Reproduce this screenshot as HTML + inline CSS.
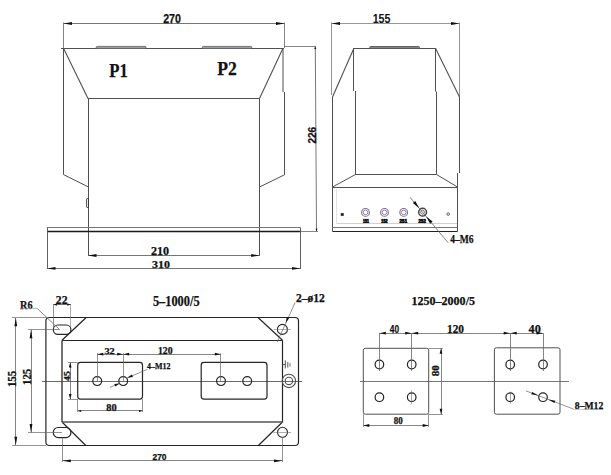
<!DOCTYPE html>
<html><head><meta charset="utf-8"><title>Transformer drawing</title>
<style>html,body{margin:0;padding:0;background:#fff;}body{width:611px;height:475px;overflow:hidden;font-family:"Liberation Serif",serif;}svg{display:block;}</style>
</head><body>
<svg width="611" height="475" viewBox="0 0 611 475">
<rect x="0" y="0" width="611" height="475" fill="#fff"/>
<line x1="63.5" y1="23.5" x2="284.5" y2="23.5" stroke="#666" stroke-width="0.9"/>
<polygon points="63.50,23.50 72.00,22.10 72.00,24.90" fill="#111"/>
<polygon points="284.50,23.50 276.00,24.90 276.00,22.10" fill="#111"/>
<line x1="63.5" y1="22.5" x2="63.5" y2="48.5" stroke="#666" stroke-width="0.8"/>
<line x1="284.5" y1="22.5" x2="284.5" y2="48" stroke="#666" stroke-width="0.8"/>
<text x="163.2" y="23.0" font-family="Liberation Sans" font-weight="bold" font-size="12.85" fill="#111" stroke="#111" stroke-width="0.25" textLength="17.80" lengthAdjust="spacingAndGlyphs">270</text>
<line x1="61" y1="48.5" x2="284" y2="48.5" stroke="#505050" stroke-width="1.0"/>
<line x1="284" y1="46.5" x2="316" y2="46.5" stroke="#666" stroke-width="0.8"/>
<rect x="96.2" y="46.4" width="49.80" height="1.90" rx="1" fill="#aaa" stroke="#666" stroke-width="0.9"/>
<rect x="202.3" y="46.4" width="49.50" height="1.90" rx="1" fill="#aaa" stroke="#666" stroke-width="0.9"/>
<line x1="63.5" y1="48.3" x2="63.5" y2="174.6" stroke="#505050" stroke-width="1.0"/>
<line x1="283.0" y1="48.3" x2="283.0" y2="92" stroke="#505050" stroke-width="1.0"/>
<line x1="284.5" y1="92" x2="284.5" y2="174.8" stroke="#505050" stroke-width="1.0"/>
<line x1="63.5" y1="48.3" x2="88" y2="98.4" stroke="#505050" stroke-width="1.1"/>
<line x1="283.0" y1="48.3" x2="259.5" y2="98.4" stroke="#505050" stroke-width="1.1"/>
<line x1="88" y1="98.5" x2="259.7" y2="98.5" stroke="#505050" stroke-width="1.0"/>
<line x1="63.5" y1="174.6" x2="88.5" y2="187" stroke="#505050" stroke-width="1.0"/>
<line x1="284.5" y1="174.8" x2="259.5" y2="187" stroke="#505050" stroke-width="1.0"/>
<line x1="88.5" y1="98.4" x2="88.5" y2="256" stroke="#505050" stroke-width="1.0"/>
<line x1="259.5" y1="98.4" x2="259.5" y2="256" stroke="#505050" stroke-width="1.0"/>
<rect x="86.6" y="198.6" width="1.90" height="8.80" rx="0.5" fill="none" stroke="#333" stroke-width="0.9"/>
<line x1="47" y1="227.5" x2="300.5" y2="227.5" stroke="#777" stroke-width="1.2"/>
<line x1="47" y1="231.5" x2="300.5" y2="231.5" stroke="#1a1a1a" stroke-width="1.4"/>
<line x1="47.5" y1="227.6" x2="47.5" y2="269" stroke="#505050" stroke-width="0.9"/>
<line x1="300.5" y1="227.6" x2="300.5" y2="269" stroke="#505050" stroke-width="0.9"/>
<line x1="300.5" y1="231.5" x2="318" y2="231.5" stroke="#666" stroke-width="0.8"/>
<line x1="315.3" y1="46.5" x2="316.5" y2="231.3" stroke="#666" stroke-width="0.9"/>
<polygon points="315.30,46.50 316.30,49.00 314.30,49.00" fill="#111"/>
<polygon points="316.50,231.30 315.50,228.80 317.50,228.80" fill="#111"/>
<text x="0" y="0" transform="translate(315.6,143.6) rotate(-90)" font-family="Liberation Sans" font-weight="bold" font-size="11.17" fill="#111" stroke="#111" stroke-width="0.25" textLength="16.80" lengthAdjust="spacingAndGlyphs">226</text>
<line x1="88" y1="255.5" x2="259.7" y2="255.5" stroke="#666" stroke-width="0.9"/>
<polygon points="88.00,255.50 96.50,254.10 96.50,256.90" fill="#111"/>
<polygon points="259.70,255.50 251.20,256.90 251.20,254.10" fill="#111"/>
<text x="151.0" y="255.1" font-family="Liberation Serif" font-weight="bold" font-size="11.54" fill="#111" stroke="#111" stroke-width="0.25" textLength="18.10" lengthAdjust="spacingAndGlyphs">210</text>
<line x1="47" y1="268.5" x2="300.5" y2="268.5" stroke="#666" stroke-width="0.9"/>
<polygon points="47.00,268.40 55.50,267.00 55.50,269.80" fill="#111"/>
<polygon points="300.50,268.40 292.00,269.80 292.00,267.00" fill="#111"/>
<text x="152.0" y="267.9" font-family="Liberation Serif" font-weight="bold" font-size="10.95" fill="#111" stroke="#111" stroke-width="0.25" textLength="17.90" lengthAdjust="spacingAndGlyphs">310</text>
<text x="109.3" y="76.5" font-family="Liberation Serif" font-weight="bold" font-size="19.49" fill="#111" stroke="#111" stroke-width="0.25" textLength="18.60" lengthAdjust="spacingAndGlyphs">P1</text>
<text x="217.2" y="74.9" font-family="Liberation Serif" font-weight="bold" font-size="19.79" fill="#111" stroke="#111" stroke-width="0.25" textLength="19.60" lengthAdjust="spacingAndGlyphs">P2</text>
<line x1="331.5" y1="23.5" x2="459.5" y2="23.5" stroke="#8a8a8a" stroke-width="0.9"/>
<polygon points="331.50,23.50 340.00,22.10 340.00,24.90" fill="#111"/>
<polygon points="459.50,23.50 451.00,24.90 451.00,22.10" fill="#111"/>
<line x1="331.5" y1="22.5" x2="331.5" y2="95" stroke="#888" stroke-width="0.9"/>
<line x1="459.5" y1="22.5" x2="459.5" y2="97" stroke="#888" stroke-width="0.9"/>
<text x="372.7" y="22.8" font-family="Liberation Sans" font-weight="bold" font-size="12.01" fill="#111" stroke="#111" stroke-width="0" textLength="17.80" lengthAdjust="spacingAndGlyphs">155</text>
<line x1="353.5" y1="48.5" x2="435.5" y2="48.5" stroke="#505050" stroke-width="1.0"/>
<rect x="369.7" y="46.5" width="49.80" height="1.70" rx="1" fill="#999" stroke="#555" stroke-width="0.9"/>
<line x1="353.9" y1="48.2" x2="332.5" y2="97" stroke="#505050" stroke-width="1.1"/>
<line x1="435.5" y1="48.2" x2="459.5" y2="97" stroke="#505050" stroke-width="1.1"/>
<line x1="332.5" y1="97" x2="332.5" y2="231.3" stroke="#505050" stroke-width="1.0"/>
<line x1="459.5" y1="97" x2="459.5" y2="173" stroke="#505050" stroke-width="1.0"/>
<line x1="457.5" y1="173" x2="457.5" y2="231.3" stroke="#505050" stroke-width="1.0"/>
<line x1="353.5" y1="48.2" x2="353.5" y2="91" stroke="#505050" stroke-width="1.0"/>
<line x1="355.5" y1="91" x2="355.5" y2="175" stroke="#505050" stroke-width="1.0"/>
<line x1="435.5" y1="48.2" x2="435.5" y2="91.6" stroke="#505050" stroke-width="1.0"/>
<line x1="436.5" y1="91.6" x2="436.5" y2="174.5" stroke="#505050" stroke-width="1.0"/>
<line x1="355.5" y1="174.5" x2="436.5" y2="174.5" stroke="#505050" stroke-width="1.0"/>
<line x1="355.5" y1="174.5" x2="332.5" y2="187" stroke="#505050" stroke-width="1.0"/>
<line x1="436.5" y1="174.5" x2="457.5" y2="187" stroke="#505050" stroke-width="1.0"/>
<line x1="332.5" y1="187.5" x2="457.5" y2="187.5" stroke="#505050" stroke-width="1.0"/>
<line x1="332.5" y1="227.5" x2="457.5" y2="227.5" stroke="#777" stroke-width="1.0"/>
<line x1="332.5" y1="231.5" x2="457.5" y2="231.5" stroke="#222" stroke-width="1.0"/>
<circle cx="365.5" cy="212.4" r="3.9" fill="none" stroke="#7d6f95" stroke-width="1.1"/>
<circle cx="365.5" cy="212.4" r="2.3" fill="none" stroke="#8f82a5" stroke-width="1.0"/>
<circle cx="384.5" cy="212.4" r="3.9" fill="none" stroke="#7d6f95" stroke-width="1.1"/>
<circle cx="384.5" cy="212.4" r="2.3" fill="none" stroke="#8f82a5" stroke-width="1.0"/>
<circle cx="403.7" cy="212.4" r="3.9" fill="none" stroke="#7d6f95" stroke-width="1.1"/>
<circle cx="403.7" cy="212.4" r="2.3" fill="none" stroke="#8f82a5" stroke-width="1.0"/>
<circle cx="422.6" cy="212.2" r="3.9" fill="none" stroke="#444" stroke-width="1.5"/>
<circle cx="422.6" cy="212.2" r="1.9" fill="none" stroke="#666" stroke-width="0.9"/>
<rect x="341.0" y="213.2" width="2.60" height="2.60" rx="0" fill="#111" stroke="#505050" stroke-width="0.5"/>
<circle cx="448.2" cy="214.1" r="1.3" fill="none" stroke="#505050" stroke-width="0.9"/>
<text x="362.9" y="222.7" font-family="Liberation Sans" font-weight="bold" font-size="4.6" fill="#111" stroke="#111" stroke-width="0.7" textLength="6.0" lengthAdjust="spacingAndGlyphs">1S1</text>
<text x="381.2" y="222.7" font-family="Liberation Sans" font-weight="bold" font-size="4.6" fill="#111" stroke="#111" stroke-width="0.7" textLength="6.3" lengthAdjust="spacingAndGlyphs">1S2</text>
<text x="399.5" y="222.7" font-family="Liberation Sans" font-weight="bold" font-size="4.6" fill="#111" stroke="#111" stroke-width="0.7" textLength="7.5" lengthAdjust="spacingAndGlyphs">2S1</text>
<text x="418.4" y="222.7" font-family="Liberation Sans" font-weight="bold" font-size="4.6" fill="#111" stroke="#111" stroke-width="0.7" textLength="7.5" lengthAdjust="spacingAndGlyphs">2S2</text>
<line x1="336.5" y1="189" x2="336.5" y2="223" stroke="#d0d0d0" stroke-width="0.6"/>
<line x1="336.5" y1="223.5" x2="457" y2="223.5" stroke="#c4c4c4" stroke-width="0.8"/>
<line x1="410" y1="197.2" x2="448.2" y2="242.8" stroke="#666" stroke-width="0.8"/>
<polygon points="419.20,208.20 412.83,203.10 415.28,201.05" fill="#111"/>
<polygon points="426.20,216.50 432.57,221.60 430.12,223.65" fill="#111"/>
<text x="450.2" y="242.6" font-family="Liberation Serif" font-weight="bold" font-size="12.13" fill="#111" stroke="#111" stroke-width="0.25" textLength="23.40" lengthAdjust="spacingAndGlyphs">4–M6</text>
<rect x="45.9" y="317.5" width="252.60" height="128.00" rx="3.5" fill="none" stroke="#262626" stroke-width="1.2"/>
<line x1="86.2" y1="317.5" x2="62" y2="340.3" stroke="#262626" stroke-width="1.2"/>
<line x1="258" y1="317.5" x2="282.5" y2="340.3" stroke="#262626" stroke-width="1.2"/>
<line x1="62" y1="422" x2="85.8" y2="445.5" stroke="#262626" stroke-width="1.2"/>
<line x1="282.5" y1="422" x2="258.4" y2="445.5" stroke="#262626" stroke-width="1.2"/>
<line x1="62" y1="340.5" x2="62" y2="422" stroke="#262626" stroke-width="1.3"/>
<line x1="282.5" y1="340.5" x2="282.5" y2="422" stroke="#262626" stroke-width="1.2"/>
<line x1="62" y1="340.5" x2="282.5" y2="340.5" stroke="#262626" stroke-width="1.1"/>
<line x1="62" y1="422" x2="282.5" y2="422" stroke="#555" stroke-width="1.3"/>
<rect x="53.3" y="325.0" width="17.60" height="9.40" rx="4.6" fill="none" stroke="#262626" stroke-width="1.2"/>
<rect x="53.3" y="427.5" width="17.60" height="10.10" rx="4.8" fill="none" stroke="#262626" stroke-width="1.2"/>
<circle cx="282.4" cy="329.4" r="5" fill="none" stroke="#262626" stroke-width="1.1"/>
<circle cx="282.5" cy="432.3" r="5" fill="none" stroke="#262626" stroke-width="1.1"/>
<line x1="273.5" y1="329.5" x2="291" y2="329.5" stroke="#777" stroke-width="0.6"/>
<line x1="273.5" y1="432.5" x2="291" y2="432.5" stroke="#777" stroke-width="0.6"/>
<line x1="53.4" y1="304.5" x2="70.8" y2="304.5" stroke="#666" stroke-width="0.8"/>
<line x1="53.5" y1="304" x2="53.5" y2="327" stroke="#666" stroke-width="0.7"/>
<line x1="70.5" y1="304" x2="70.5" y2="327" stroke="#777" stroke-width="0.6"/>
<polygon points="53.40,304.60 56.90,303.40 56.90,305.80" fill="#111"/>
<polygon points="70.80,304.60 67.30,305.80 67.30,303.40" fill="#111"/>
<text x="55.800000000000004" y="304.3" font-family="Liberation Serif" font-weight="bold" font-size="11.98" fill="#111" stroke="#111" stroke-width="0.25" textLength="11.70" lengthAdjust="spacingAndGlyphs">22</text>
<text x="20.099999999999998" y="308.8" font-family="Liberation Serif" font-weight="bold" font-size="11.54" fill="#111" stroke="#111" stroke-width="0.25" textLength="12.50" lengthAdjust="spacingAndGlyphs">R6</text>
<line x1="21" y1="308.5" x2="37.4" y2="308.5" stroke="#999" stroke-width="0.6"/>
<line x1="37.4" y1="308.7" x2="59.5" y2="329.5" stroke="#666" stroke-width="0.8"/>
<line x1="15.5" y1="318" x2="15.5" y2="445.3" stroke="#666" stroke-width="0.8"/>
<polygon points="15.80,317.80 17.20,326.30 14.40,326.30" fill="#111"/>
<polygon points="15.80,445.30 14.40,436.80 17.20,436.80" fill="#111"/>
<line x1="12" y1="317.5" x2="46" y2="317.5" stroke="#666" stroke-width="0.7"/>
<line x1="12" y1="445.5" x2="46" y2="445.5" stroke="#666" stroke-width="0.7"/>
<text x="0" y="0" transform="translate(16.3,387.1) rotate(-90)" font-family="Liberation Serif" font-weight="bold" font-size="13.17" fill="#111" stroke="#111" stroke-width="0.25" textLength="16.30" lengthAdjust="spacingAndGlyphs">155</text>
<line x1="31.5" y1="329.7" x2="31.5" y2="432.6" stroke="#666" stroke-width="0.8"/>
<polygon points="31.00,329.70 32.40,338.20 29.60,338.20" fill="#111"/>
<polygon points="31.00,432.60 29.60,424.10 32.40,424.10" fill="#111"/>
<line x1="28" y1="329.5" x2="59.5" y2="329.5" stroke="#666" stroke-width="0.7"/>
<line x1="28" y1="432.5" x2="62" y2="432.5" stroke="#666" stroke-width="0.7"/>
<text x="0" y="0" transform="translate(31,385) rotate(-90)" font-family="Liberation Serif" font-weight="bold" font-size="12.43" fill="#111" stroke="#111" stroke-width="0.25" textLength="16.30" lengthAdjust="spacingAndGlyphs">125</text>
<line x1="42" y1="381.5" x2="302" y2="381.5" stroke="#444" stroke-width="0.8"/>
<rect x="77.7" y="362.4" width="64.80" height="36.70" rx="2.8" fill="none" stroke="#262626" stroke-width="1.2"/>
<rect x="201.2" y="362.4" width="65.80" height="36.70" rx="2.8" fill="none" stroke="#262626" stroke-width="1.2"/>
<circle cx="97.2" cy="381.1" r="4.4" fill="none" stroke="#262626" stroke-width="1.2"/>
<circle cx="123.2" cy="381.1" r="4.4" fill="none" stroke="#262626" stroke-width="1.2"/>
<circle cx="221.0" cy="381.1" r="4.4" fill="none" stroke="#262626" stroke-width="1.2"/>
<circle cx="247.2" cy="381.1" r="4.4" fill="none" stroke="#262626" stroke-width="1.2"/>
<line x1="97.3" y1="354.5" x2="220.8" y2="354.5" stroke="#666" stroke-width="0.8"/>
<line x1="97.5" y1="353.2" x2="97.5" y2="381" stroke="#666" stroke-width="0.7"/>
<line x1="123.5" y1="353.2" x2="123.5" y2="381" stroke="#666" stroke-width="0.7"/>
<line x1="220.5" y1="353.2" x2="220.5" y2="381" stroke="#666" stroke-width="0.7"/>
<polygon points="97.30,354.20 103.30,352.80 103.30,355.60" fill="#111"/>
<polygon points="123.20,354.20 117.20,355.60 117.20,352.80" fill="#111"/>
<polygon points="123.20,354.20 129.20,352.80 129.20,355.60" fill="#111"/>
<polygon points="220.80,354.20 214.80,355.60 214.80,352.80" fill="#111"/>
<text x="104.4" y="353.5" font-family="Liberation Serif" font-weight="bold" font-size="9.02" fill="#111" stroke="#111" stroke-width="0.25" textLength="10.30" lengthAdjust="spacingAndGlyphs">32</text>
<text x="157.89999999999998" y="353.6" font-family="Liberation Serif" font-weight="bold" font-size="9.32" fill="#111" stroke="#111" stroke-width="0.25" textLength="14.70" lengthAdjust="spacingAndGlyphs">120</text>
<line x1="70.5" y1="362.4" x2="70.5" y2="399.1" stroke="#666" stroke-width="0.8"/>
<line x1="68" y1="362.5" x2="77.7" y2="362.5" stroke="#666" stroke-width="0.7"/>
<line x1="68" y1="399.5" x2="77.7" y2="399.5" stroke="#666" stroke-width="0.7"/>
<polygon points="70.20,362.40 71.60,367.40 68.80,367.40" fill="#111"/>
<polygon points="70.20,399.10 68.80,394.10 71.60,394.10" fill="#111"/>
<text x="0" y="0" transform="translate(69.8,381) rotate(-90)" font-family="Liberation Serif" font-weight="bold" font-size="7.25" fill="#111" stroke="#111" stroke-width="0.25" textLength="9.80" lengthAdjust="spacingAndGlyphs">45</text>
<line x1="77.7" y1="410.5" x2="142.5" y2="410.5" stroke="#666" stroke-width="0.8"/>
<line x1="77.7" y1="399.5" x2="142.5" y2="399.5" stroke="#666" stroke-width="0"/>
<line x1="77.5" y1="399.1" x2="77.5" y2="412" stroke="#666" stroke-width="0.7"/>
<line x1="142.5" y1="399.1" x2="142.5" y2="412" stroke="#666" stroke-width="0.7"/>
<polygon points="77.70,410.90 81.20,409.90 81.20,411.90" fill="#111"/>
<polygon points="142.50,410.90 139.00,411.90 139.00,409.90" fill="#111"/>
<text x="106.2" y="410.5" font-family="Liberation Serif" font-weight="bold" font-size="9.32" fill="#111" stroke="#111" stroke-width="0.25" textLength="10.40" lengthAdjust="spacingAndGlyphs">80</text>
<text x="147.1" y="369.3" font-family="Liberation Serif" font-weight="bold" font-size="8.73" fill="#111" stroke="#111" stroke-width="0.25" textLength="23.50" lengthAdjust="spacingAndGlyphs">4–M12</text>
<line x1="147.4" y1="369.3" x2="127" y2="378" stroke="#666" stroke-width="0.7"/>
<polygon points="127.30,377.80 131.84,374.39 132.92,376.98" fill="#111"/>
<line x1="110" y1="387.3" x2="119.5" y2="383.4" stroke="#666" stroke-width="0.7"/>
<polygon points="119.50,383.40 115.42,386.62 114.35,384.03" fill="#111"/>
<line x1="282.5" y1="364.6" x2="285.3" y2="364.6" stroke="#505050" stroke-width="1.0"/>
<line x1="285.3" y1="360.4" x2="285.3" y2="368.4" stroke="#505050" stroke-width="1.0"/>
<line x1="287.8" y1="362" x2="287.8" y2="367.6" stroke="#555" stroke-width="1.0"/>
<line x1="290" y1="363" x2="290" y2="366.7" stroke="#777" stroke-width="1.0"/>
<circle cx="288.9" cy="380.9" r="6.7" fill="none" stroke="#505050" stroke-width="1.1"/>
<circle cx="288.9" cy="380.9" r="3.7" fill="none" stroke="#505050" stroke-width="1.1"/>
<text x="295.9" y="302.2" font-family="Liberation Serif" font-weight="bold" font-size="11.69" fill="#111" stroke="#111" stroke-width="0.25" textLength="28.90" lengthAdjust="spacingAndGlyphs">2–ø12</text>
<line x1="295.2" y1="302.4" x2="277" y2="342.4" stroke="#666" stroke-width="0.7"/>
<polygon points="285.60,323.00 286.79,316.95 289.34,318.10" fill="#111"/>
<text x="152.89999999999998" y="305.6" font-family="Liberation Serif" font-weight="bold" font-size="13.61" fill="#111" stroke="#111" stroke-width="0.25" textLength="46.70" lengthAdjust="spacingAndGlyphs">5–1000/5</text>
<line x1="62.3" y1="460.5" x2="282.5" y2="460.5" stroke="#666" stroke-width="0.8"/>
<line x1="62.5" y1="437.5" x2="62.5" y2="462" stroke="#666" stroke-width="0.7"/>
<line x1="282.5" y1="437" x2="282.5" y2="462" stroke="#666" stroke-width="0.7"/>
<polygon points="62.30,460.80 70.80,459.40 70.80,462.20" fill="#111"/>
<polygon points="282.50,460.80 274.00,462.20 274.00,459.40" fill="#111"/>
<text x="152.5" y="460.1" font-family="Liberation Sans" font-weight="bold" font-size="8.24" fill="#111" stroke="#111" stroke-width="0.25" textLength="14.00" lengthAdjust="spacingAndGlyphs">270</text>
<text x="411.5" y="304.9" font-family="Liberation Serif" font-weight="bold" font-size="11.98" fill="#111" stroke="#111" stroke-width="0.25" textLength="63.50" lengthAdjust="spacingAndGlyphs">1250–2000/5</text>
<rect x="363.3" y="348.3" width="65.40" height="65.90" rx="2" fill="none" stroke="#505050" stroke-width="1.0"/>
<rect x="494.4" y="347.8" width="65.60" height="66.40" rx="2" fill="none" stroke="#505050" stroke-width="1.0"/>
<circle cx="379.4" cy="364.5" r="4.3" fill="none" stroke="#222" stroke-width="1.2"/>
<circle cx="379.4" cy="397.2" r="4.3" fill="none" stroke="#222" stroke-width="1.2"/>
<circle cx="411.7" cy="364.5" r="4.3" fill="none" stroke="#222" stroke-width="1.2"/>
<circle cx="411.7" cy="397.2" r="4.3" fill="none" stroke="#222" stroke-width="1.2"/>
<circle cx="510.2" cy="364.5" r="4.3" fill="none" stroke="#222" stroke-width="1.2"/>
<circle cx="510.2" cy="397.2" r="4.3" fill="none" stroke="#222" stroke-width="1.2"/>
<circle cx="543.0" cy="364.5" r="4.3" fill="none" stroke="#222" stroke-width="1.2"/>
<circle cx="543.0" cy="397.2" r="4.3" fill="none" stroke="#222" stroke-width="1.2"/>
<line x1="360" y1="381.5" x2="569" y2="381.5" stroke="#555" stroke-width="0.8"/>
<line x1="379.4" y1="333.5" x2="543" y2="333.5" stroke="#666" stroke-width="0.8"/>
<line x1="379.5" y1="333.2" x2="379.5" y2="371" stroke="#666" stroke-width="0.8"/>
<line x1="411.5" y1="333.2" x2="411.5" y2="371" stroke="#666" stroke-width="0.8"/>
<line x1="510.5" y1="333.2" x2="510.5" y2="371" stroke="#666" stroke-width="0.8"/>
<line x1="543.5" y1="333.2" x2="543.5" y2="371" stroke="#666" stroke-width="0.8"/>
<line x1="411.5" y1="390.4" x2="411.5" y2="404.3" stroke="#666" stroke-width="0.6"/>
<line x1="510.5" y1="391.7" x2="510.5" y2="403.5" stroke="#666" stroke-width="0.6"/>
<polygon points="379.40,333.20 385.90,331.80 385.90,334.60" fill="#111"/>
<polygon points="411.70,333.20 405.20,334.60 405.20,331.80" fill="#111"/>
<polygon points="411.70,333.20 418.20,331.80 418.20,334.60" fill="#111"/>
<polygon points="510.20,333.20 503.70,334.60 503.70,331.80" fill="#111"/>
<polygon points="510.20,333.20 516.70,331.80 516.70,334.60" fill="#111"/>
<polygon points="543.00,333.20 536.50,334.60 536.50,331.80" fill="#111"/>
<text x="389.8" y="332.8" font-family="Liberation Sans" font-weight="bold" font-size="11.73" fill="#111" stroke="#111" stroke-width="0.25" textLength="9.30" lengthAdjust="spacingAndGlyphs">40</text>
<text x="447.0" y="332.9" font-family="Liberation Serif" font-weight="bold" font-size="11.69" fill="#111" stroke="#111" stroke-width="0.25" textLength="17.00" lengthAdjust="spacingAndGlyphs">120</text>
<text x="528.6" y="332.8" font-family="Liberation Serif" font-weight="bold" font-size="12.43" fill="#111" stroke="#111" stroke-width="0.25" textLength="12.20" lengthAdjust="spacingAndGlyphs">40</text>
<line x1="441.5" y1="348.3" x2="441.5" y2="414.2" stroke="#666" stroke-width="0.8"/>
<line x1="428.7" y1="348.5" x2="443" y2="348.5" stroke="#666" stroke-width="0.7"/>
<line x1="428.7" y1="414.5" x2="443" y2="414.5" stroke="#666" stroke-width="0.7"/>
<polygon points="441.00,348.30 442.40,353.80 439.60,353.80" fill="#111"/>
<polygon points="441.00,414.20 439.60,408.70 442.40,408.70" fill="#111"/>
<text x="0" y="0" transform="translate(438.9,376.3) rotate(-90)" font-family="Liberation Serif" font-weight="bold" font-size="9.32" fill="#111" stroke="#111" stroke-width="0.25" textLength="11.00" lengthAdjust="spacingAndGlyphs">80</text>
<line x1="363.3" y1="425.5" x2="428.7" y2="425.5" stroke="#666" stroke-width="0.8"/>
<line x1="363.5" y1="414.2" x2="363.5" y2="427" stroke="#666" stroke-width="0.7"/>
<line x1="428.5" y1="414.2" x2="428.5" y2="427" stroke="#666" stroke-width="0.7"/>
<polygon points="363.30,425.50 369.30,424.10 369.30,426.90" fill="#111"/>
<polygon points="428.70,425.50 422.70,426.90 422.70,424.10" fill="#111"/>
<text x="393.8" y="424.1" font-family="Liberation Serif" font-weight="bold" font-size="10.06" fill="#111" stroke="#111" stroke-width="0.25" textLength="9.00" lengthAdjust="spacingAndGlyphs">80</text>
<line x1="526" y1="390.9" x2="573.6" y2="409.1" stroke="#666" stroke-width="0.7"/>
<line x1="573.6" y1="409.5" x2="603.4" y2="409.5" stroke="#999" stroke-width="0.5"/>
<polygon points="538.30,395.60 531.29,394.33 532.22,391.90" fill="#111"/>
<polygon points="548.30,399.40 555.31,400.67 554.38,403.10" fill="#111"/>
<text x="574.8000000000001" y="408.7" font-family="Liberation Serif" font-weight="bold" font-size="10.50" fill="#111" stroke="#111" stroke-width="0.25" textLength="28.50" lengthAdjust="spacingAndGlyphs">8–M12</text>
</svg>
</body></html>
